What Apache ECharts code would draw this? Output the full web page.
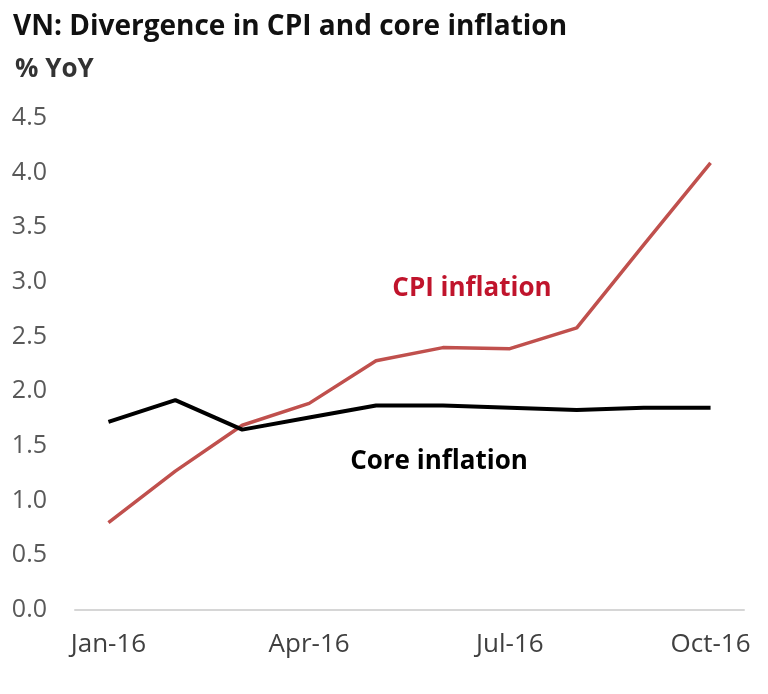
<!DOCTYPE html>
<html><head><meta charset="utf-8">
<script src="https://cdn.jsdelivr.net/npm/echarts@6/dist/echarts.min.js"></script>
<style>html,body{margin:0;padding:0;background:#fff}#c{width:768px;height:694px}</style>
</head><body><div id="c"></div>
<script>
const categories = ['Jan-16','Feb-16','Mar-16','Apr-16','May-16','Jun-16','Jul-16','Aug-16','Sep-16','Oct-16'];
const cpiInflation = [0.80, 1.27, 1.69, 1.89, 2.28, 2.40, 2.39, 2.58, 3.34, 4.09];
const coreInflation = [1.72, 1.92, 1.65, 1.76, 1.87, 1.87, 1.85, 1.83, 1.85, 1.85];
const yTicks = [0, 0.5, 1, 1.5, 2, 2.5, 3, 3.5, 4, 4.5];

const chart = echarts.init(document.getElementById('c'));
const F = 'Open Sans';
chart.setOption({
  animation: false,
  title: [
    {text: 'VN: Divergence in CPI and core inflation', left: 8, top: 8,
     textStyle: {fontFamily: F, fontWeight: 'bold', fontSize: 28, color: '#111'}},
    {text: '% YoY', left: 10, top: 52,
     textStyle: {fontFamily: F, fontWeight: 'bold', fontSize: 26, color: '#333'}}
  ],
  grid: {left: 75, right: 24, top: 118, bottom: 84, containLabel: false},
  xAxis: {
    type: 'category', data: categories, boundaryGap: true,
    axisLine: {lineStyle: {color: '#d6d6d6', width: 2}},
    axisTick: {show: false},
    axisLabel: {interval: 2, color: '#404040', fontFamily: F, fontSize: 26, margin: 22}
  },
  yAxis: {
    type: 'value', min: yTicks[0], max: yTicks[yTicks.length-1], interval: 0.5,
    splitLine: {show: false}, axisLine: {show: false}, axisTick: {show: false},
    axisLabel: {color: '#595959', fontFamily: F, fontSize: 25, margin: 28,
      formatter: v => v.toFixed(1)}
  },
  series: [
    {name: 'CPI inflation', type: 'line', data: cpiInflation, symbol: 'none',
     lineStyle: {color: '#c0504d', width: 3.5}},
    {name: 'Core inflation', type: 'line', data: coreInflation, symbol: 'none',
     lineStyle: {color: '#000', width: 4}}
  ],
  graphic: [
    {type: 'text', x: 472, y: 289, style: {text: 'CPI inflation', fill: '#c0142c',
      font: 'bold 26px "Open Sans"', textAlign: 'center', textVerticalAlign: 'middle'}},
    {type: 'text', x: 439, y: 462, style: {text: 'Core inflation', fill: '#000',
      font: 'bold 26px "Open Sans"', textAlign: 'center', textVerticalAlign: 'middle'}}
  ]
});
</script></body></html>
